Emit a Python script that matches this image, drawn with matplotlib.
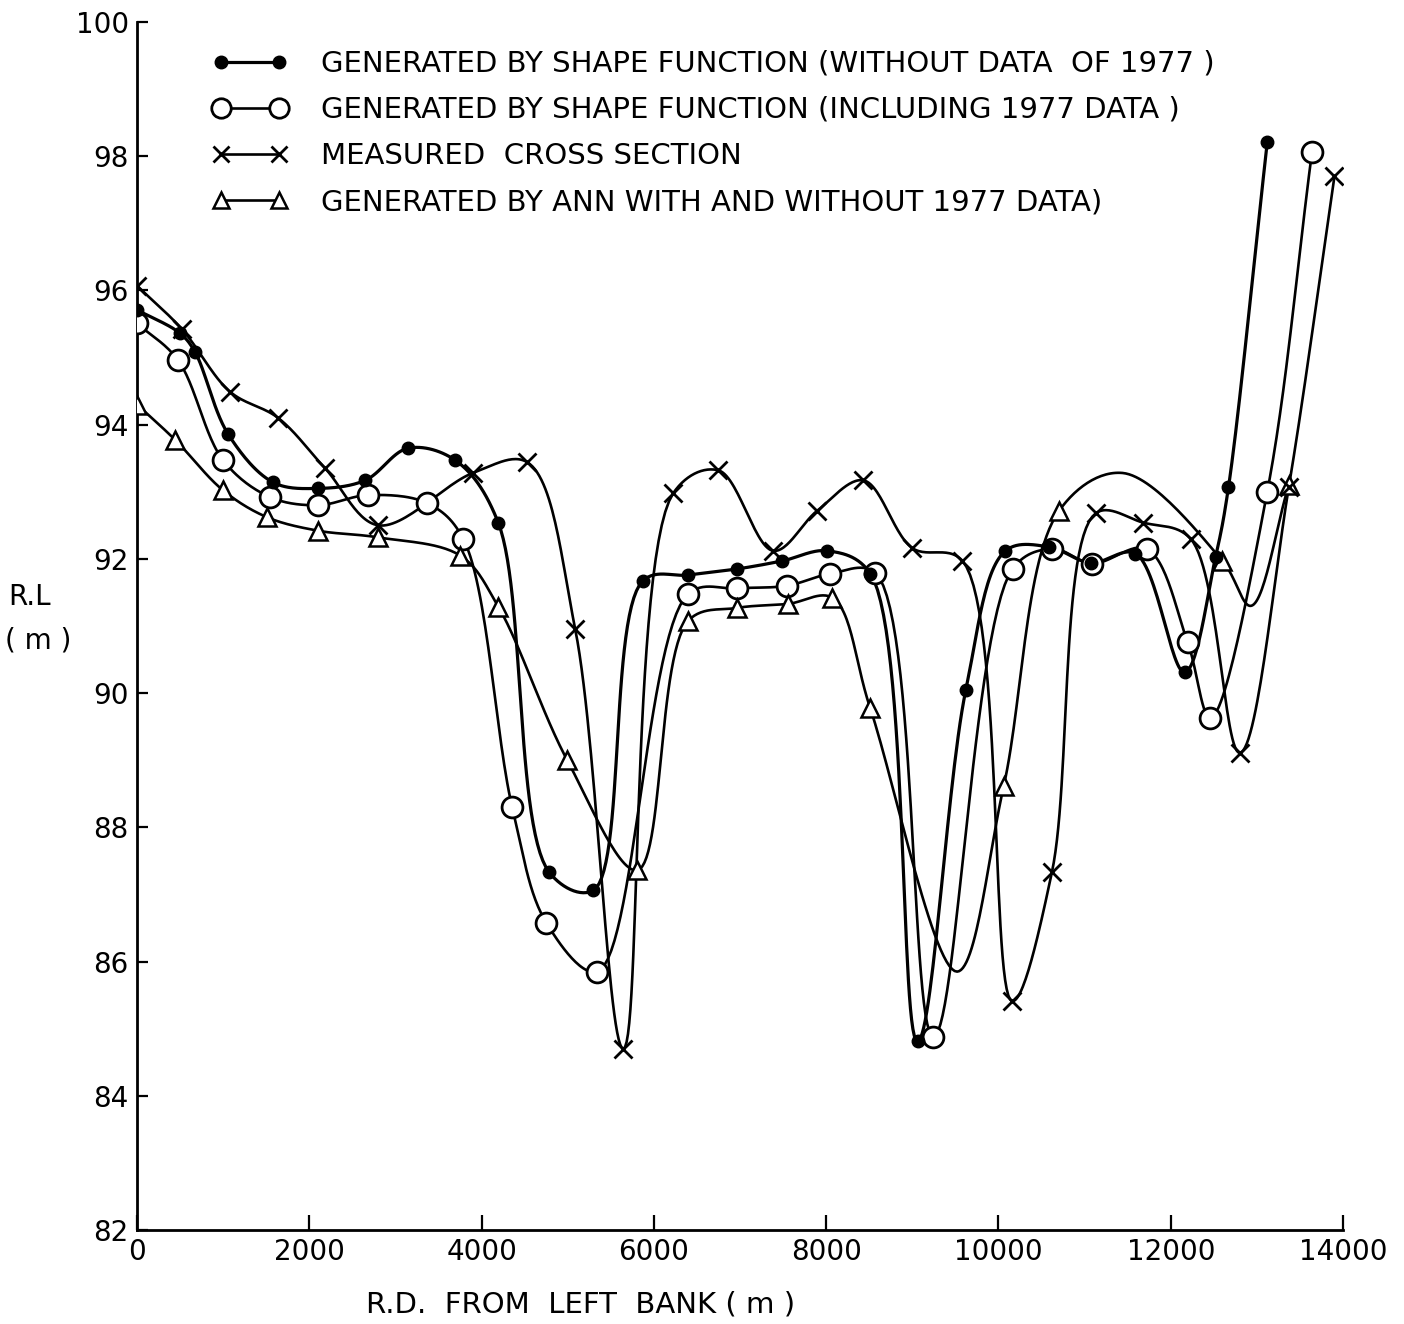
import matplotlib
matplotlib.use('Agg')
import matplotlib.pyplot as plt
from matplotlib.lines import Line2D
import numpy as np

# shape function, without the 1977 data (filled dots)
sf_wo_x = [0, 500, 674, 1057, 1580, 2102, 2648, 3148, 3693, 4193, 4785, 5296,
           5870, 6400, 6969, 7491, 8014, 8513, 9060, 9620, 10081, 10581, 11070,
           11590, 12160, 12520, 12670, 13120]
sf_wo_y = [95.71, 95.36, 95.08, 93.86, 93.14, 93.05, 93.17, 93.65, 93.47, 92.54,
           87.33, 87.06, 91.67, 91.76, 91.85, 91.97, 92.12, 91.78, 84.81, 90.04,
           92.12, 92.18, 91.94, 92.08, 90.31, 92.03, 93.07, 98.21]

# shape function, including the 1977 data (open circles)
sf_inc_x = [0, 476, 999, 1545, 2102, 2683, 3368, 3786, 4355, 4750, 5342, 6400,
            6969, 7549, 8049, 8571, 9245, 10163, 10627, 11090, 11720, 12195,
            12460, 13120, 13640]
sf_inc_y = [95.51, 94.96, 93.47, 92.92, 92.8, 92.95, 92.83, 92.3, 88.3, 86.58,
            85.85, 91.48, 91.56, 91.6, 91.78, 91.79, 84.88, 91.85, 92.15, 91.93,
            92.15, 90.76, 89.63, 93.0, 98.07]

# measured cross section (x marks)
meas_x = [0, 523, 1080, 1638, 2183, 2800, 3900, 4530, 5087, 5645, 6225, 6748,
          7387, 7898, 8432, 9001, 9582, 10160, 10620, 11130, 11680, 12230,
          12800, 13370, 13900]
meas_y = [96.07, 95.42, 94.49, 94.1, 93.35, 92.5, 93.28, 93.44, 90.95, 84.7,
          92.98, 93.32, 92.12, 92.72, 93.17, 92.16, 91.97, 85.41, 87.33, 92.68,
          92.54, 92.3, 89.11, 93.07, 97.7]

# ANN (triangles); the curve also runs through a few unmarked turning points
ann_x = [0, 445, 1000, 1510, 2100, 2800, 3750, 4193, 4994, 5807, 6400, 6969,
         7561, 8072, 8510, 9520, 10060, 10700, 11440, 12600, 12930, 13370]
ann_y = [94.3, 93.77, 93.02, 92.62, 92.42, 92.32, 92.05, 91.29, 89.0, 87.36,
         91.08, 91.27, 91.33, 91.42, 89.78, 85.85, 88.61, 92.71, 93.28, 91.97,
         91.3, 93.1]
ann_marked = [True] * 15 + [False, True, True, False, True, False, True]

labels = [
    'GENERATED BY SHAPE FUNCTION (WITHOUT DATA  OF 1977 )',
    'GENERATED BY SHAPE FUNCTION (INCLUDING 1977 DATA )',
    'MEASURED  CROSS SECTION',
    'GENERATED BY ANN WITH AND WITHOUT 1977 DATA)',
]

x_ticks = [0, 2000, 4000, 6000, 8000, 10000, 12000, 14000]
y_ticks = [82, 84, 86, 88, 90, 92, 94, 96, 98, 100]


def smooth(xs, ys, n=30):
    # centripetal Catmull-Rom through the read points, done in screen-like units
    sx, sy = 0.0861, 67.2
    P = np.column_stack([np.asarray(xs, float) * sx, np.asarray(ys, float) * sy])
    P = np.vstack([2 * P[0] - P[1], P, 2 * P[-1] - P[-2]])
    out = [P[1]]
    for i in range(1, len(P) - 2):
        p0, p1, p2, p3 = P[i - 1], P[i], P[i + 1], P[i + 2]
        t0 = 0.0
        t1 = t0 + np.linalg.norm(p1 - p0) ** 0.5
        t2 = t1 + np.linalg.norm(p2 - p1) ** 0.5
        t3 = t2 + np.linalg.norm(p3 - p2) ** 0.5
        t = np.linspace(t1, t2, n)[1:, None]
        a1 = (t1 - t) / (t1 - t0) * p0 + (t - t0) / (t1 - t0) * p1
        a2 = (t2 - t) / (t2 - t1) * p1 + (t - t1) / (t2 - t1) * p2
        a3 = (t3 - t) / (t3 - t2) * p2 + (t - t2) / (t3 - t2) * p3
        b1 = (t2 - t) / (t2 - t0) * a1 + (t - t0) / (t2 - t0) * a2
        b2 = (t3 - t) / (t3 - t1) * a2 + (t - t1) / (t3 - t1) * a3
        c = (t2 - t) / (t2 - t1) * b1 + (t - t1) / (t2 - t1) * b2
        out.extend(c)
    out = np.array(out)
    return out[:, 0] / sx, out[:, 1] / sy


def draw():
    plt.rcParams['font.family'] = ['DejaVu Sans']
    fig = plt.figure(figsize=(14.04, 13.24), dpi=100)
    ax = fig.add_axes([0.0976, 0.071, 0.859, 0.9124])

    lw = 1.9
    sx, sy = smooth(sf_wo_x, sf_wo_y)
    ax.plot(sx, sy, color='black', lw=2.3, zorder=2)
    sx, sy = smooth(sf_inc_x, sf_inc_y)
    ax.plot(sx, sy, color='black', lw=lw, zorder=2)
    sx, sy = smooth(meas_x, meas_y)
    ax.plot(sx, sy, color='black', lw=lw, zorder=2)
    sx, sy = smooth(ann_x, ann_y)
    ax.plot(sx, sy, color='black', lw=lw, zorder=2)

    ax.plot(sf_wo_x, sf_wo_y, ls='none', marker='o', ms=9, color='black', zorder=4)
    ax.plot(sf_inc_x, sf_inc_y, ls='none', marker='o', ms=15, mfc='white',
            mec='black', mew=2, zorder=3)
    ax.plot(meas_x, meas_y, ls='none', marker='x', ms=13, mec='black', mew=2,
            zorder=4)
    ann_mx = [x for x, m in zip(ann_x, ann_marked) if m]
    ann_my = [y for y, m in zip(ann_y, ann_marked) if m]
    ax.plot(ann_mx, ann_my, ls='none', marker='^', ms=13, mfc='white',
            mec='black', mew=1.8, zorder=3)

    handles = [
        Line2D([], [], color='black', lw=2.3, marker='o', ms=9),
        Line2D([], [], color='black', lw=lw, marker='o', ms=14, mfc='white', mew=2),
        Line2D([], [], color='black', lw=lw, marker='x', ms=12, mew=2),
        Line2D([], [], color='black', lw=lw, marker='^', ms=12, mfc='white', mew=1.8),
    ]
    ax.legend(handles, labels, loc='upper left', bbox_to_anchor=(0.062, 0.977),
              frameon=False, numpoints=2, handlelength=2.6, handletextpad=1.15,
              labelspacing=0.62, borderpad=0, borderaxespad=0, fontsize=21)

    ax.set_xlim(0, 14000)
    ax.set_ylim(82, 100)
    ax.set_xticks(x_ticks)
    ax.set_yticks(y_ticks)
    ax.set_xticklabels([str(v) for v in x_ticks], fontsize=20)
    ax.set_yticklabels([str(v) for v in y_ticks], fontsize=20)
    ax.tick_params(axis='x', direction='in', length=11, width=1.6, pad=6)
    ax.tick_params(axis='y', direction='in', length=8, width=1.6, pad=6)
    for side in ['top', 'right']:
        ax.spines[side].set_visible(False)
    for side in ['left', 'bottom']:
        ax.spines[side].set_linewidth(2)

    fig.text(30 / 1404, 1 - 597 / 1324, 'R.L', fontsize=20, ha='center', va='center')
    fig.text(38 / 1404, 1 - 640 / 1324, '( m )', fontsize=20, ha='center', va='center')
    fig.text(581 / 1404, 1 - 1305 / 1324, 'R.D.  FROM  LEFT  BANK ( m )', fontsize=21,
             ha='center', va='center')

    fig.savefig('out.png', dpi=100)


if __name__ == "__main__":
    draw()
